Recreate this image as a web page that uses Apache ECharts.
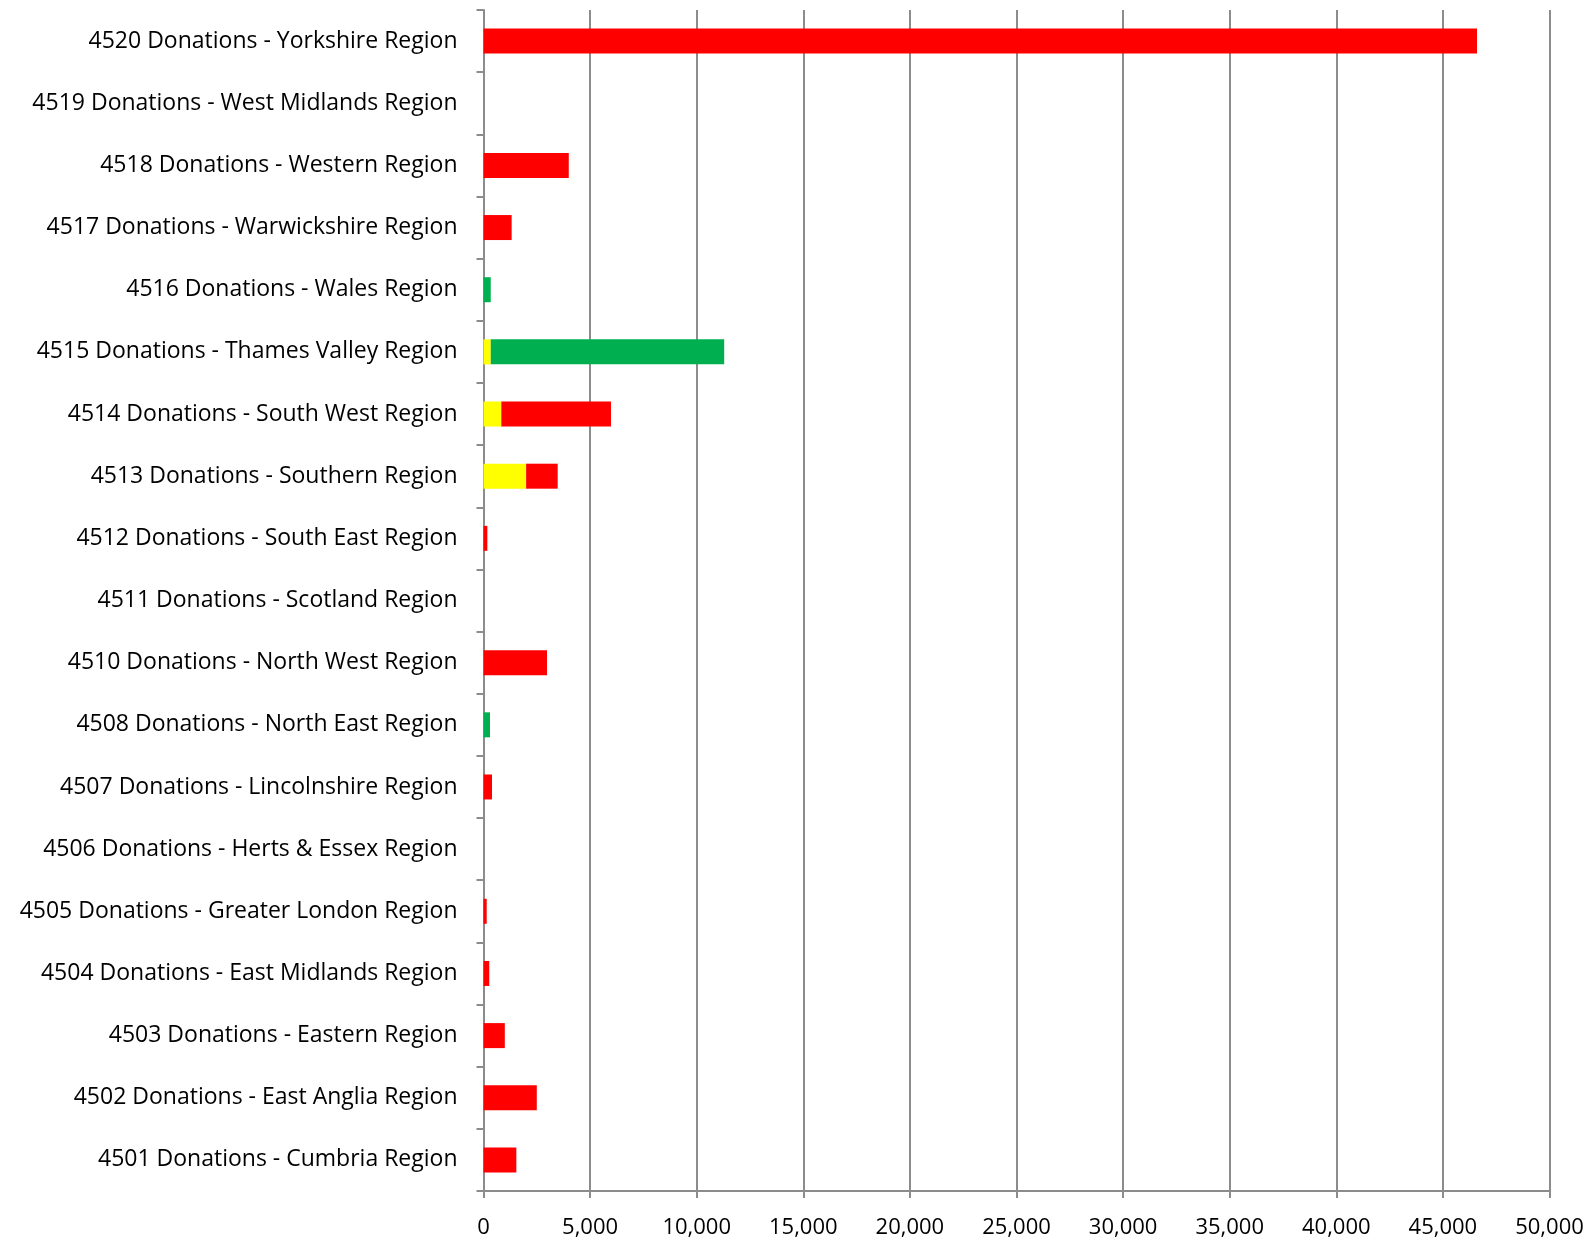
<!DOCTYPE html>
<html>
<head>
<meta charset="utf-8">
<script src="https://cdn.jsdelivr.net/npm/echarts@6/dist/echarts.min.js"></script>
<style>
html,body{margin:0;padding:0;background:#fff;}
#chart{width:1590px;height:1240px;}
</style>
</head>
<body>
<div id="chart"></div>
<script>
// Categories, bottom to top
const categories = [
  "4501 Donations - Cumbria Region",
  "4502 Donations - East Anglia Region",
  "4503 Donations - Eastern Region",
  "4504 Donations - East Midlands Region",
  "4505 Donations - Greater London Region",
  "4506 Donations - Herts & Essex Region",
  "4507 Donations - Lincolnshire Region",
  "4508 Donations - North East Region",
  "4510 Donations - North West Region",
  "4511 Donations - Scotland Region",
  "4512 Donations - South East Region",
  "4513 Donations - Southern Region",
  "4514 Donations - South West Region",
  "4515 Donations - Thames Valley Region",
  "4516 Donations - Wales Region",
  "4517 Donations - Warwickshire Region",
  "4518 Donations - Western Region",
  "4519 Donations - West Midlands Region",
  "4520 Donations - Yorkshire Region"
];
const yellowValues = [null,null,null,null,null,null,null,null,null,null,null,2000,835,340,null,null,null,null,null];
const greenValues  = [null,null,null,null,null,null,null,305,null,null,null,null,null,10950,340,null,null,null,null];
const redValues    = [1540,2500,1000,270,150,null,400,null,2980,null,180,1480,5145,null,null,1320,4000,null,46600];
const xTicks = { min: 0, max: 50000, interval: 5000 };

const FONT = '"Open Sans", "Noto Sans", sans-serif';
const chart = echarts.init(document.getElementById('chart'), null, {renderer:'canvas'});
const gray = '#8c8c8c';
function bar(name, data, color){
  return { name, type:'bar', stack:'total', data, barWidth:25,
    itemStyle:{color}, emphasis:{disabled:true}, animation:false };
}
chart.setOption({
  animation:false,
  grid:{left:483.5, right:40.5, top:10, bottom:49, containLabel:false},
  xAxis:{
    type:'value', min:xTicks.min, max:xTicks.max, interval:xTicks.interval,
    axisLine:{show:true, lineStyle:{color:gray, width:2}},
    axisTick:{show:true, length:7, lineStyle:{color:gray, width:2}},
    splitLine:{show:true, lineStyle:{color:gray, width:2}},
    axisLabel:{color:'#000', fontFamily:FONT, fontSize:22, margin:26,
      formatter:v=>v.toLocaleString('en-US')}
  },
  yAxis:{
    type:'category', data:categories,
    axisLine:{show:true, lineStyle:{color:gray, width:2}},
    axisTick:{show:true, length:7, lineStyle:{color:gray, width:2}},
    axisLabel:{color:'#000', fontFamily:FONT, fontSize:23, margin:26, padding:[4,0,0,0]}
  },
  series:[
    bar('Yellow', yellowValues, '#FFFF00'),
    bar('Green', greenValues, '#00B050'),
    bar('Red', redValues, '#FF0000')
  ]
});
</script>
</body>
</html>
